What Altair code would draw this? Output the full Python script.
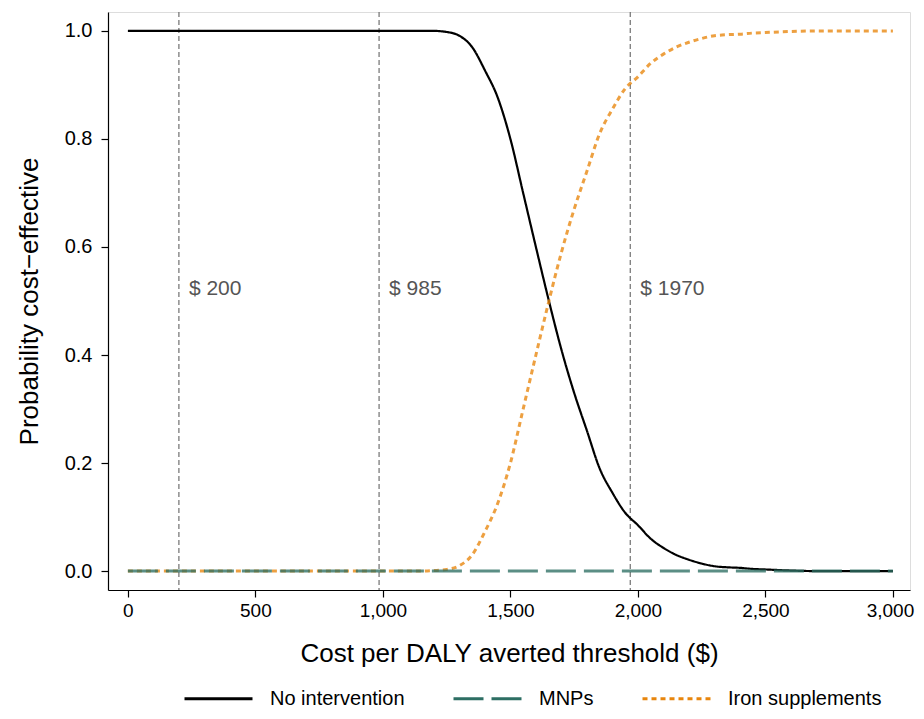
import altair as alt
import pandas as pd

# Threshold grid (cost per DALY averted, $)
thresholds = [0, 500, 1000, 1100, 1150, 1200, 1250, 1300, 1350, 1400, 1450, 1500,
              1550, 1600, 1650, 1700, 1750, 1800, 1850, 1900, 1950, 2000, 2050,
              2100, 2150, 2200, 2250, 2300, 2350, 2400, 2450, 2500, 2600, 2700,
              2800, 2900, 3000]

no_intervention = [1.0, 1.0, 1.0, 1.0, 1.0, 1.0, 0.998, 0.991, 0.97, 0.927, 0.877, 0.80,
                   0.70, 0.60, 0.502, 0.41, 0.33, 0.26, 0.19, 0.145, 0.108, 0.085, 0.06,
                   0.043, 0.03, 0.021, 0.014, 0.009, 0.007, 0.006, 0.004, 0.003, 0.001, 0.0,
                   0.0, 0.0, 0.0]

iron_supplements = [0.0, 0.0, 0.0, 0.0, 0.0, 0.001, 0.003, 0.01, 0.03, 0.073, 0.125, 0.20,
                    0.30, 0.40, 0.498, 0.59, 0.67, 0.74, 0.81, 0.855, 0.893, 0.915, 0.94,
                    0.957, 0.97, 0.979, 0.986, 0.991, 0.993, 0.994, 0.996, 0.997, 0.999, 1.0,
                    1.0, 1.0, 1.0]

mnps = [0.0] * len(thresholds)

series_names = ["No intervention", "MNPs", "Iron supplements"]
series_colors = ["#000000", "#2d6e63", "#e8850c"]
series_dashes = [[1, 0], [30, 8], [5, 4]]

ref_values = [200, 985, 1970]
ref_labels = ["$ 200", "$ 985", "$ 1970"]

x_ticks = [0, 500, 1000, 1500, 2000, 2500, 3000]
y_ticks = [0.0, 0.2, 0.4, 0.6, 0.8, 1.0]

rows = []
for name, vals in [("No intervention", no_intervention),
                   ("Iron supplements", iron_supplements),
                   ("MNPs", mnps)]:
    for t, v in zip(thresholds, vals):
        rows.append({"threshold": t, "prob": v, "series": name})
df = pd.DataFrame(rows)

refs = pd.DataFrame({"x": ref_values, "label": ref_labels, "y": [0.522] * 3})

FONT = "Liberation Sans"

x_scale = alt.Scale(domain=[-78, 3067], nice=False, zero=False)
y_scale = alt.Scale(domain=[-0.035, 1.035], nice=False, zero=False)

x_enc = alt.X("threshold:Q", scale=x_scale,
              axis=alt.Axis(title="Cost per DALY averted threshold ($)", values=x_ticks,
                            format=",d", grid=False, tickSize=7, labelPadding=4,
                            labelOffset={"condition": {"test": "datum.value == 3000", "value": -3},
                                         "value": 0},
                            titlePadding=20, labelFontSize=19, titleFontSize=26,
                            titleFontWeight="normal", domainColor="black",
                            tickColor="black", labelColor="black", titleColor="black",
                            domainWidth=1.2, tickWidth=1.2, labelFont=FONT, titleFont=FONT))
y_enc = alt.Y("prob:Q", scale=y_scale,
              axis=alt.Axis(title="Probability cost\u2212effective", values=y_ticks,
                            format=".1f", grid=False, tickSize=7, labelPadding=9,
                            titlePadding=22, labelFontSize=20, titleFontSize=26,
                            titleFontWeight="normal", domainColor="black",
                            tickColor="black", labelColor="black", titleColor="black",
                            domainWidth=1.2, tickWidth=1.2, labelFont=FONT, titleFont=FONT))

color_enc = alt.Color("series:N",
                      scale=alt.Scale(domain=series_names, range=series_colors),
                      legend=alt.Legend(title=None, orient="none", direction="horizontal",
                                        legendX=75, legendY=651, symbolType="stroke",
                                        symbolSize=4624, symbolStrokeWidth=3,
                                        symbolOpacity=1, labelFontSize=20, labelFont=FONT,
                                        labelColor="black", labelOffset=16,
                                        labelBaseline="middle",
                                        columnPadding=42, padding=0))
dash_enc = alt.StrokeDash("series:N",
                          scale=alt.Scale(domain=series_names, range=series_dashes),
                          legend=None)

base = alt.Chart(df)

black_line = base.transform_filter(alt.datum.series == "No intervention").mark_line(
    strokeWidth=2.2, opacity=1, interpolate="monotone").encode(
    x=x_enc, y=y_enc, color=color_enc, strokeDash=dash_enc, detail="series:N")

other_lines = base.transform_filter(alt.datum.series != "No intervention").mark_line(
    strokeWidth=3, opacity=0.78, interpolate="monotone").encode(
    x=x_enc, y=y_enc, color=color_enc, strokeDash=dash_enc, detail="series:N")

rules = alt.Chart(refs).mark_rule(color="#707070", strokeDash=[5, 3], strokeWidth=1.2).encode(
    x=alt.X("x:Q", scale=x_scale))

texts = alt.Chart(refs).mark_text(align="left", baseline="middle", dx=10, fontSize=21,
                                  font=FONT, color="#555555").encode(
    x=alt.X("x:Q", scale=x_scale), y=alt.Y("y:Q", scale=y_scale), text="label:N")

chart = alt.layer(rules, texts, black_line, other_lines).properties(
    width=802, height=578,
    autosize=alt.AutoSizeParams(type="none"),
    padding={"left": 100, "top": 4, "right": 6, "bottom": 121},
).configure_view(stroke=None).configure(background="white")

chart.save("out.html", embed_options={"renderer": "svg", "actions": False})
